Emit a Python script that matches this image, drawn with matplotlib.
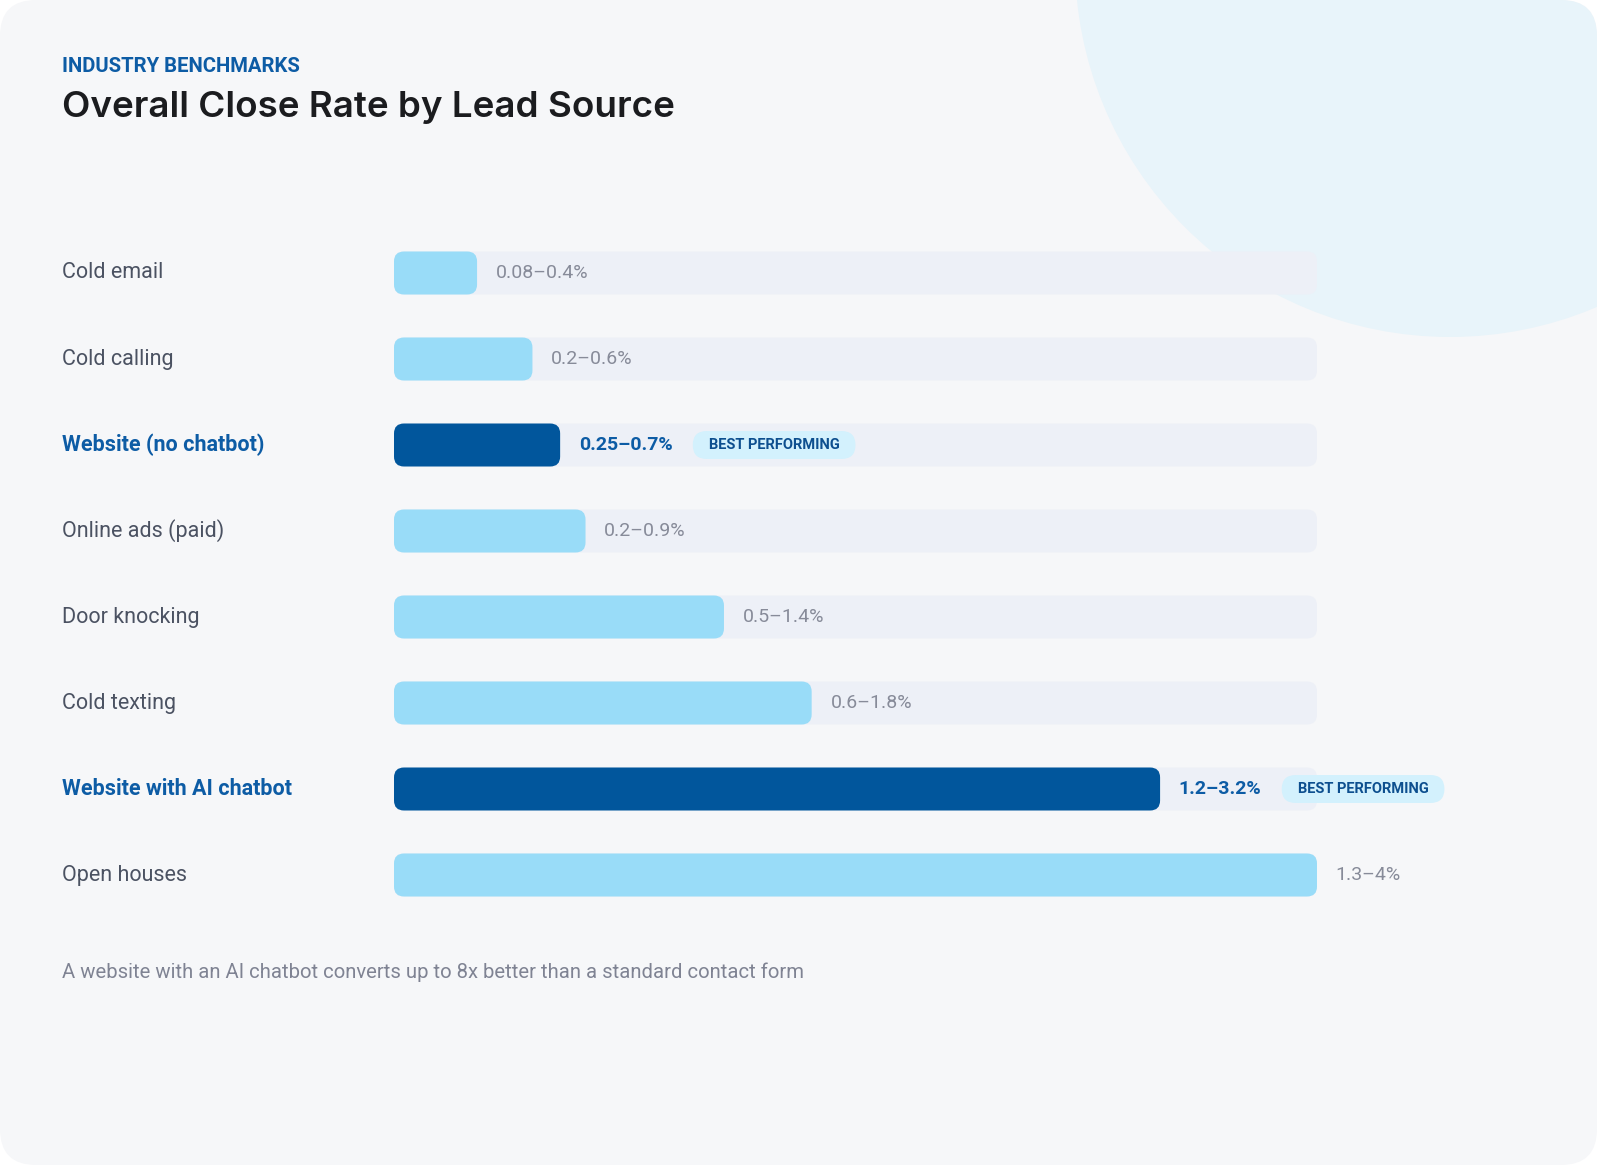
import matplotlib.pyplot as plt
from matplotlib.patches import Circle, FancyBboxPatch
from matplotlib.transforms import IdentityTransform, blended_transform_factory

# lead sources, top to bottom
sources = [
    'Cold email',
    'Cold calling',
    'Website (no chatbot)',
    'Online ads (paid)',
    'Door knocking',
    'Cold texting',
    'Website with AI chatbot',
    'Open houses',
]
range_labels = [
    '0.08–0.4%',
    '0.2–0.6%',
    '0.25–0.7%',
    '0.2–0.9%',
    '0.5–1.4%',
    '0.6–1.8%',
    '1.2–3.2%',
    '1.3–4%',
]
# bar length in % (as drawn), track runs 0..4
bar_values = [0.36, 0.60, 0.72, 0.83, 1.43, 1.81, 3.32, 4.0]
best = [False, False, True, False, False, False, True, False]
scale_max = 4.0

W, H, DPI = 1600, 1169, 100
BODY = ['Roboto', 'DejaVu Sans']
TITLE = ['Inter', 'DejaVu Sans']

BG = '#f6f7f9'
BLOB = '#e8f4fa'
TRACK = '#edf0f7'
LIGHT = '#99dcf8'
DARK = '#01569c'
BLUE_TXT = '#0d5ca5'
LABEL = '#4b5262'
MUTED = '#878b99'
BADGE_BG = '#d3f1fd'
BADGE_TXT = '#0d4f8f'


def fx(px):
    return px / W


def fy(px):
    return 1 - px / H


fig = plt.figure(figsize=(W / DPI, H / DPI), dpi=DPI)
fig.patch.set_facecolor('white')

# card + decorative circle
bg = fig.add_axes([0, 0, 1, 1], zorder=0)
bg.set_xlim(0, W)
bg.set_ylim(H, 0)
bg.axis('off')
card = FancyBboxPatch((0, 0), W - 3, H - 4, boxstyle='round,pad=0,rounding_size=36',
                      fc=BG, ec='none')
bg.add_patch(card)
blob = Circle((1450, -38), 375, fc=BLOB, ec='none')
bg.add_patch(blob)
blob.set_clip_path(card)

# bar area
ax = fig.add_axes([fx(394), fy(918), fx(923), 688 / H], zorder=1)
ax.patch.set_visible(False)
ax.set_xlim(0, scale_max)
ax.set_ylim(len(sources) - 0.5, -0.5)
ax.axis('off')

bb = ax.get_window_extent()
px_x = bb.width / scale_max
px_y = bb.height / len(sources)
aspect = px_x / px_y
radius = 10 / px_x
bar_h = 0.5

for i, v in enumerate(bar_values):
    track = FancyBboxPatch((0, i - bar_h / 2), scale_max, bar_h,
                           boxstyle=f'round,pad=0,rounding_size={radius}',
                           mutation_aspect=aspect, fc=TRACK, ec='none', zorder=1)
    ax.add_patch(track)
    bar = FancyBboxPatch((0, i - bar_h / 2), v, bar_h,
                         boxstyle=f'round,pad=0,rounding_size={radius}',
                         mutation_aspect=aspect, fc=DARK if best[i] else LIGHT,
                         ec='none', zorder=2)
    ax.add_patch(bar)

lab_tr = blended_transform_factory(fig.transFigure, ax.transData)
value_texts = []
for i, name in enumerate(sources):
    ax.text(fx(62), i, name, transform=lab_tr, ha='left', va='center',
            fontsize=15.5, family=BODY,
            color=BLUE_TXT if best[i] else LABEL,
            fontweight='bold' if best[i] else 'normal')
    t = ax.annotate(range_labels[i], xy=(bar_values[i], i), xytext=(13.5, 0),
                    textcoords='offset points', ha='left', va='center',
                    fontsize=14, family=BODY,
                    color=BLUE_TXT if best[i] else MUTED,
                    fontweight='bold' if best[i] else 'normal', zorder=3)
    value_texts.append(t)

badges = []
for i, t in enumerate(value_texts):
    if best[i]:
        b = ax.annotate('BEST PERFORMING', xy=(1, 0.5), xycoords=t,
                        xytext=(26, 0), textcoords='offset points',
                        ha='left', va='center', fontsize=10.5, family=BODY,
                        fontweight='bold', color=BADGE_TXT, zorder=5,
                        annotation_clip=False)
        badges.append(b)

# headings and footnote
fig.text(fx(62), fy(72), 'INDUSTRY BENCHMARKS', ha='left', va='baseline',
         fontsize=14.6, family=BODY, fontweight='bold', color=BLUE_TXT)
fig.text(fx(62), fy(117), 'Overall Close Rate by Lead Source', ha='left',
         va='baseline', fontsize=26.5, family=TITLE, fontweight='semibold',
         color='#1b1c1f')
fig.text(fx(62), fy(978), 'A website with an AI chatbot converts up to 8x better '
         'than a standard contact form', ha='left', va='baseline',
         fontsize=14.6, family=BODY, color='#7f8393')

# pill behind each badge, sized from the rendered text
fig.canvas.draw()
for b in badges:
    e = b.get_window_extent()
    cy = (e.y0 + e.y1) / 2
    pill_h = 28
    pad_x = 16
    pill = FancyBboxPatch((e.x0 - pad_x, cy - pill_h / 2), e.width + 2 * pad_x, pill_h,
                          boxstyle=f'round,pad=0,rounding_size={pill_h / 2}',
                          fc=BADGE_BG, ec='none', transform=IdentityTransform(),
                          zorder=4, clip_on=False)
    ax.add_artist(pill)
    pill.set_clip_on(False)

fig.savefig('out.png', dpi=DPI, facecolor=fig.get_facecolor())
